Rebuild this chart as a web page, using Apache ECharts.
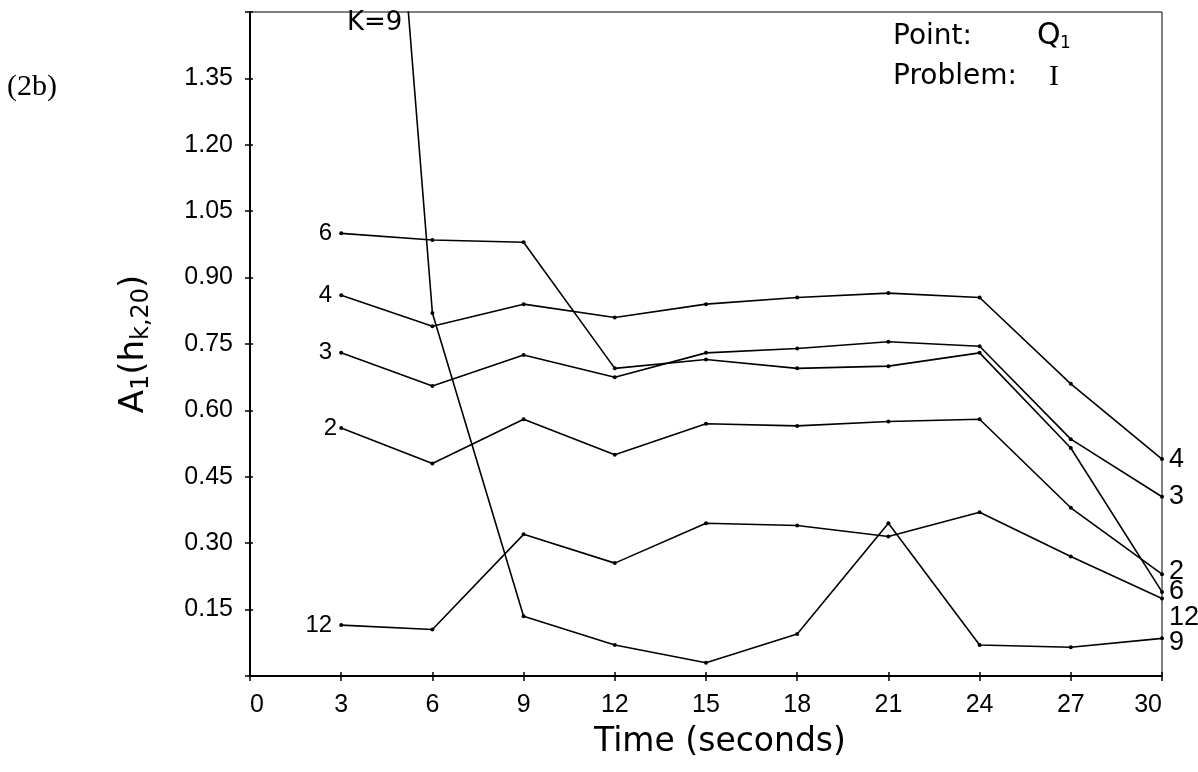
<!DOCTYPE html>
<html><head><meta charset="utf-8">
<script src="https://cdn.jsdelivr.net/npm/echarts@6/dist/echarts.min.js"></script>
<style>html,body{margin:0;padding:0;background:#fff}#c{width:1198px;height:772px}</style>
</head><body><div id="c"></div>
<script>
// ---- data ----
const times = [3, 6, 9, 12, 15, 18, 21, 24, 27, 30];
const xTickLabels = ['0', '3', '6', '9', '12', '15', '18', '21', '24', '27', '30'];
const yTickLabels = ['0.15', '0.30', '0.45', '0.60', '0.75', '0.90', '1.05', '1.20', '1.35'];
const k2  = [0.56, 0.48, 0.58, 0.50, 0.57, 0.565, 0.575, 0.58, 0.38, 0.23];
const k3  = [0.73, 0.655, 0.725, 0.675, 0.73, 0.74, 0.755, 0.745, 0.535, 0.405];
const k4  = [0.86, 0.79, 0.84, 0.81, 0.84, 0.855, 0.865, 0.855, 0.66, 0.49];
const k6  = [1.00, 0.985, 0.98, 0.695, 0.715, 0.695, 0.70, 0.73, 0.515, 0.19];
const k9  = [3.4, 0.82, 0.135, 0.07, 0.03, 0.095, 0.345, 0.07, 0.065, 0.085];
const k12 = [0.115, 0.105, 0.32, 0.255, 0.345, 0.34, 0.315, 0.37, 0.27, 0.175];

const SANS = '"Liberation Sans", Arial, sans-serif';
const WIDE = '"DejaVu Sans", sans-serif';

function mkSeries(name, vals, leftLbl, rightLbl) {
  const data = vals.map((v, i) => {
    const item = { value: [times[i], v] };
    if (i === 0 && leftLbl) {
      item.label = { show: true, position: 'left', distance: leftLbl.d, offset: leftLbl.o || [0, 0],
        formatter: name, fontFamily: SANS, fontSize: 24, color: '#000' };
    }
    if (i === vals.length - 1 && rightLbl) {
      item.label = { show: true, position: 'right', distance: 5, offset: rightLbl.o || [0, 0],
        formatter: name, fontFamily: SANS, fontSize: 27, color: '#000' };
    }
    return item;
  });
  return {
    type: 'line', name: name, data: data, clip: true,
    xAxisIndex: 0, yAxisIndex: 0,
    symbol: 'circle', symbolSize: 4, showAllSymbol: true,
    lineStyle: { color: '#000', width: 1.6 },
    itemStyle: { color: '#000' },
    label: { show: false },
    emphasis: { disabled: true },
    animation: false
  };
}

const tickFmtX = (v) => { const i = Math.round(v / 3); return xTickLabels[i] !== undefined ? xTickLabels[i] : ''; };
const tickFmtY = (v) => { const i = Math.round(v / 0.15) - 1; return (i >= 0 && i < yTickLabels.length) ? yTickLabels[i] : ''; };

const chart = echarts.init(document.getElementById('c'), null, { renderer: 'canvas' });
chart.setOption({
  backgroundColor: '#fff',
  animation: false,
  grid: { left: 250, right: 36, top: 12, bottom: 96, show: true, borderColor: '#000', borderWidth: 1 },
  xAxis: [{
    type: 'value', min: 0, max: 30, interval: 3, position: 'bottom',
    name: 'Time (seconds)', nameLocation: 'middle', nameGap: 50,
    nameTextStyle: { fontFamily: WIDE, fontSize: 33, color: '#000', padding: [0, 0, 0, 28] },
    axisLine: { lineStyle: { color: '#000', width: 2 } },
    axisTick: { length: 5, lineStyle: { color: '#000', width: 1.5 } },
    axisLabel: { fontFamily: SANS, fontSize: 25, color: '#000', margin: 17,
      alignMinLabel: 'left', alignMaxLabel: 'right', formatter: tickFmtX },
    splitLine: { show: false }
  }, {
    type: 'value', min: 0, max: 30, interval: 3, position: 'bottom', offset: 0,
    axisLine: { show: false },
    axisTick: { show: true, inside: true, length: 4, lineStyle: { color: '#000', width: 1.5 } },
    axisLabel: { show: false }, splitLine: { show: false }
  }],
  yAxis: [{
    type: 'value', min: 0, max: 1.5, interval: 0.15, position: 'left',
    name: '{a|A}{s|1}{a|(h}{s|k,20}{a|)}', nameLocation: 'middle', nameRotate: 90, nameGap: 96,
    nameTextStyle: {
      color: '#000',
      rich: {
        a: { fontFamily: WIDE, fontSize: 34, lineHeight: 40, color: '#000' },
        s: { fontFamily: WIDE, fontSize: 24, lineHeight: 24, verticalAlign: 'bottom', color: '#000' }
      }
    },
    axisLine: { show: true, lineStyle: { color: '#000', width: 2 } },
    axisTick: { show: true, length: 5, lineStyle: { color: '#000', width: 1.5 } },
    axisLabel: { fontFamily: SANS, fontSize: 25, color: '#000', margin: 17, formatter: tickFmtY },
    splitLine: { show: false }
  }, {
    type: 'value', min: 0, max: 1.5, interval: 0.15, position: 'left', offset: 0,
    axisLine: { show: false },
    axisTick: { show: true, inside: true, length: 3, lineStyle: { color: '#000', width: 1.5 } },
    axisLabel: { show: false }, splitLine: { show: false }
  }],
  title: [
    { text: 'Point:', left: 893, top: 23, padding: 0,
      textStyle: { fontFamily: WIDE, fontSize: 28, fontWeight: 'normal', color: '#000' } },
    { text: 'Q', left: 1037, top: 21, padding: 0,
      textStyle: { fontFamily: WIDE, fontSize: 30, fontWeight: 'normal', color: '#000' } },
    { text: '1', left: 1060, top: 35, padding: 0,
      textStyle: { fontFamily: WIDE, fontSize: 17, fontWeight: 'normal', color: '#000' } },
    { text: '{a|Problem:}{b|I}', left: 893, top: 62, padding: 0, textStyle: { color: '#000', fontWeight: 'normal',
        rich: { a: { fontFamily: WIDE, fontSize: 28, fontWeight: 'normal', color: '#000' },
                b: { fontFamily: '"Liberation Serif", serif', fontSize: 30, fontWeight: 'normal', color: '#000', padding: [0, 0, 0, 32] } } } }
  ],
  graphic: [
    { type: 'text', left: 7, top: 72, style: { text: '(2b)', font: '30px "Liberation Serif", serif', fill: '#000' } },
    { type: 'text', left: 347, top: 10, style: { text: 'K=9', font: '26px "DejaVu Sans", sans-serif', fill: '#000' } }
  ],
  series: [
    mkSeries('6', k6, { d: 7 }, { o: [0, 0] }),
    mkSeries('4', k4, { d: 7 }, { o: [0, 0] }),
    mkSeries('3', k3, { d: 7 }, { o: [0, 0] }),
    mkSeries('2', k2, { d: 2 }, { o: [0, -3] }),
    mkSeries('12', k12, { d: 7 }, { o: [0, 19] }),
    mkSeries('9', k9, null, { o: [0, 4] })
  ]
});
</script></body></html>
